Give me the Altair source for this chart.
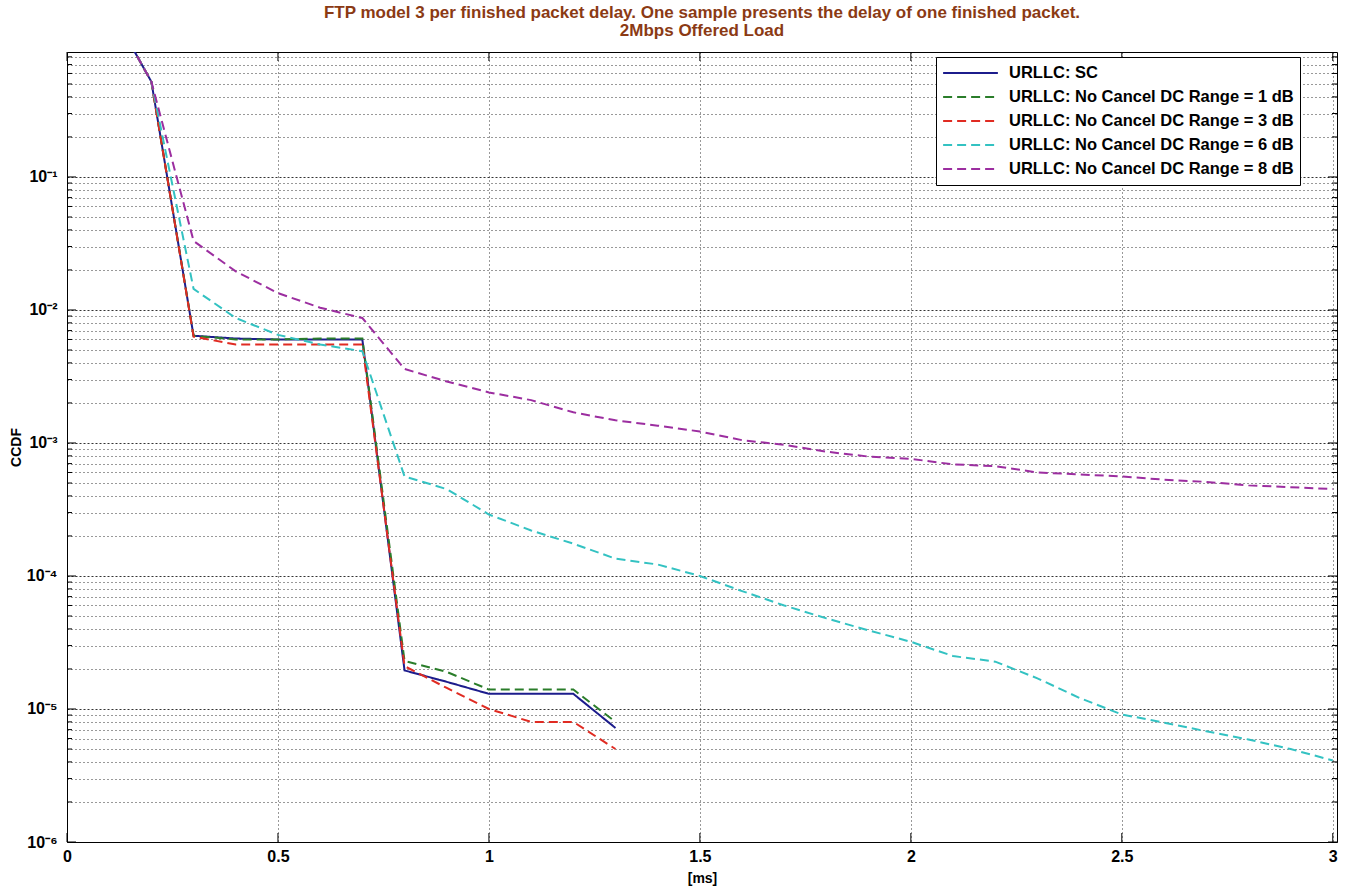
import altair as alt
import pandas as pd

# ---------------- data ----------------
series_names = [
    "URLLC: SC",
    "URLLC: No Cancel DC Range = 1 dB",
    "URLLC: No Cancel DC Range = 3 dB",
    "URLLC: No Cancel DC Range = 6 dB",
    "URLLC: No Cancel DC Range = 8 dB",
]
series_colors = ["#1c1c8c", "#2a7d2a", "#e02b22", "#33c2c2", "#9c2ea0"]
series_dash = [[1, 0], [9, 5], [9, 5], [9, 5], [9, 5]]

x_short = [0.15, 0.2, 0.3, 0.4, 0.5, 0.6, 0.7, 0.8, 0.9, 1.0, 1.1, 1.2, 1.3]
sc_y = [1.0, 0.52, 0.0064, 0.0061, 0.0060, 0.0060, 0.0060, 1.95e-5, 1.6e-5, 1.3e-5, 1.3e-5, 1.3e-5, 7.2e-6]
db1_y = [1.0, 0.52, 0.0064, 0.0060, 0.0060, 0.0061, 0.0061, 2.3e-5, 1.9e-5, 1.4e-5, 1.4e-5, 1.4e-5, 8.0e-6]
db3_y = [1.0, 0.52, 0.0063, 0.0055, 0.0055, 0.0055, 0.0055, 2.1e-5, 1.44e-5, 1.0e-5, 8.0e-6, 8.0e-6, 5.0e-6]

x_long = [0.15, 0.2, 0.3, 0.4, 0.5, 0.6, 0.7, 0.8, 0.9, 1.0, 1.1, 1.2, 1.3, 1.4, 1.5, 1.6,
          1.7, 1.8, 1.9, 2.0, 2.1, 2.2, 2.3, 2.4, 2.5, 2.6, 2.7, 2.8, 2.9, 3.0]
db6_y = [1.0, 0.52, 0.0144, 0.0087, 0.0065, 0.0055, 0.0049, 5.6e-4, 4.5e-4, 2.9e-4, 2.2e-4,
         1.75e-4, 1.35e-4, 1.22e-4, 1.0e-4, 7.7e-5, 6.0e-5, 4.8e-5, 3.9e-5, 3.2e-5, 2.5e-5,
         2.27e-5, 1.7e-5, 1.21e-5, 9.1e-6, 7.9e-6, 6.8e-6, 5.9e-6, 5.0e-6, 4.1e-6]
db8_y = [1.0, 0.52, 0.033, 0.0195, 0.0134, 0.0104, 0.0087, 0.0036, 0.0029, 0.0024, 0.0021,
         0.0017, 0.00148, 0.00135, 0.00122, 0.00105, 9.7e-4, 8.6e-4, 7.9e-4, 7.6e-4, 6.9e-4,
         6.7e-4, 6.0e-4, 5.8e-4, 5.6e-4, 5.3e-4, 5.1e-4, 4.8e-4, 4.65e-4, 4.5e-4]

x_ticks = [0, 0.5, 1, 1.5, 2, 2.5, 3]
x_tick_labels = ["0", "0.5", "1", "1.5", "2", "2.5", "3"]
y_major = [1e-6, 1e-5, 1e-4, 1e-3, 1e-2, 1e-1]
y_major_labels = ["10⁻⁶", "10⁻⁵", "10⁻⁴", "10⁻³", "10⁻²", "10⁻¹"]
y_minor = [m * d for d in [1e-6, 1e-5, 1e-4, 1e-3, 1e-2, 1e-1] for m in range(2, 10) if m * d < 0.87]

title_lines = ["FTP model 3 per finished packet delay. One sample presents the delay of one finished packet.",
               "2Mbps Offered Load"]

# ---------------- build table ----------------
rows = []
for name, xs, ys in [(series_names[0], x_short, sc_y), (series_names[1], x_short, db1_y),
                     (series_names[2], x_short, db3_y), (series_names[3], x_long, db6_y),
                     (series_names[4], x_long, db8_y)]:
    for i, (xv, yv) in enumerate(zip(xs, ys)):
        rows.append({"x": xv, "y": yv, "series": name, "order": i})
df = pd.DataFrame(rows)

W, H = 1270, 790
FONT = "Liberation Sans"
xdom = [0, 3.01]
ydom = [1e-6, 0.87]
xscale = alt.Scale(domain=xdom, nice=False, zero=False)
yscale = alt.Scale(type="log", domain=ydom, nice=False)

all_y = y_major + y_minor
label_expr = " : ".join(
    f"datum.value == {v!r} ? '{lab}'" for v, lab in zip(y_major, y_major_labels)
) + " : ''"
x_label_expr = " : ".join(
    f"datum.value == {v!r} ? '{lab}'" for v, lab in zip(x_ticks, x_tick_labels)
) + " : ''"
major_test = " || ".join(f"datum.value == {v!r}" for v in y_major)

legend = alt.Legend(
    title=None, orient="none", legendX=869, legendY=5,
    symbolType="stroke", symbolSize=3000, symbolStrokeWidth=2,
    labelFont=FONT, labelFontSize=16.5, labelFontWeight="bold", labelColor="black",
    labelLimit=600, clipHeight=20, rowPadding=4, padding=6, labelOffset=10,
    fillColor="white", strokeColor="black",
)

xaxis = alt.Axis(values=x_ticks, labelExpr=x_label_expr, title="[ms]",
                 labelFont=FONT, labelFontSize=16, labelFontWeight="bold",
                 labelColor="black", labelPadding=6, ticks=False, domain=False,
                 titleFont=FONT, titleFontSize=14, titleFontWeight="bold",
                 titleColor="black", titlePadding=7, labelFlush=False,
                 grid=True, gridColor="black", gridDash=[1, 3], gridOpacity=0.8)
yaxis = alt.Axis(values=all_y, labelExpr=label_expr, title="CCDF",
                 labelFont=FONT, labelFontSize=16, labelFontWeight="bold",
                 labelColor="black", labelPadding=10, ticks=False, domain=False,
                 labelOverlap=False, labelFlush=False,
                 titleFont=FONT, titleFontSize=14, titleFontWeight="bold",
                 titleColor="black", titlePadding=3,
                 grid=True, gridColor="black", gridOpacity=0.8,
                 gridDash={"condition": {"test": major_test, "value": [2, 2]},
                           "value": [1, 3]})

lines = alt.Chart(df).mark_line(strokeWidth=2, clip=True).encode(
    x=alt.X("x:Q", scale=xscale, axis=xaxis),
    y=alt.Y("y:Q", scale=yscale, axis=yaxis),
    color=alt.Color("series:N", sort=series_names,
                    scale=alt.Scale(domain=series_names, range=series_colors), legend=legend),
    strokeDash=alt.StrokeDash("series:N", sort=series_names,
                              scale=alt.Scale(domain=series_names, range=series_dash), legend=legend),
    order="order:Q",
)

# inward tick marks (derived from tick lists via the shared scales)
ymaj_df = pd.DataFrame({"y": y_major})
ymin_df = pd.DataFrame({"y": y_minor})
xt_df = pd.DataFrame({"x": x_ticks})

def ytick(data, x0, x1):
    return alt.Chart(data).mark_rule(color="black", strokeWidth=1).encode(
        y=alt.Y("y:Q", scale=yscale), x=alt.value(x0), x2=alt.value(x1))

def xtick(y0, y1):
    return alt.Chart(xt_df).mark_rule(color="black", strokeWidth=1).encode(
        x=alt.X("x:Q", scale=xscale), y=alt.value(y0), y2=alt.value(y1))

ticks = [
    ytick(ymaj_df, 0, 9), ytick(ymin_df, 0, 5),
    ytick(ymaj_df, W, W - 9), ytick(ymin_df, W, W - 5),
    xtick(H, H - 9), xtick(0, 9),
]

chart = alt.layer(lines, *ticks).properties(
    width=W, height=H,
    title=alt.TitleParams(text=title_lines, font=FONT, fontSize=17, fontWeight="bold",
                          color="#8b3a14", anchor="middle", offset=9, lineHeight=18),
    autosize=alt.AutoSizeParams(type="none"),
    padding={"left": 67, "top": 52, "right": 14, "bottom": 49},
    background="white",
).configure_view(stroke="black", strokeWidth=1)

chart.save("out.html", embed_options={"renderer": "svg", "actions": False})
